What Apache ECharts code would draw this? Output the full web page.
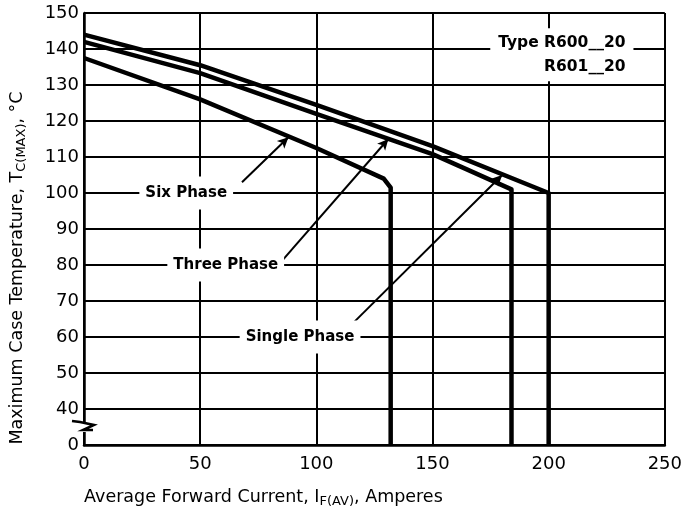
<!DOCTYPE html>
<html>
<head>
<meta charset="utf-8">
<script src="https://cdn.jsdelivr.net/npm/echarts@6/dist/echarts.min.js"></script>
<style>
  html, body { margin: 0; padding: 0; background: #fff; }
  #chart { width: 685px; height: 514px; }
</style>
</head>
<body>
<div id="chart"></div>
<script>
// curve data (current in A, case temp in °C)
// the y axis is broken: the bottom tick (30 here) is labelled "0"
const singleAmps = [0, 50, 100, 150, 200, 200];
const singleTemps = [144, 135.5, 124.5, 113, 100, 30];
const threeAmps = [0, 50, 100, 150, 165, 184, 184];
const threeTemps = [142, 133.3, 122, 110.8, 106.5, 101, 30];
const sixAmps = [0, 50, 100, 129, 132, 132];
const sixTemps = [137.5, 126, 112.5, 104, 101.5, 30];

const xTicks = [0, 50, 100, 150, 200, 250];
const yTickLabels = { 30: '0' };

// annotation labels and the arrows pointing at the curves
const noteTexts = ['Six Phase', 'Three Phase', 'Single Phase'];
const notePos = [[44, 100], [61, 80], [93, 60]];
const arrowFrom = [[68, 103], [85, 81], [116, 64]];
const arrowTo = [[88, 115.5], [131, 115], [180, 105]];
const typeLines = ['Type R600__20', 'R601__20'];
const typePos = [[236.5, 141.6], [236.5, 134.9]];

const FONT = '"DejaVu Sans", "Liberation Sans", sans-serif';

const chart = echarts.init(document.getElementById('chart'));

function curve(name, xs, ys) {
  return {
    name: name,
    type: 'line',
    data: xs.map((x, i) => [x, ys[i]]),
    symbol: 'none',
    lineStyle: { color: '#000', width: 4.5, join: 'round' },
    z: 5
  };
}

const notePoints = noteTexts.map((t, i) => ({
  coord: notePos[i],
  label: {
    show: true,
    position: 'inside',
    formatter: t,
    color: '#000',
    fontFamily: FONT,
    fontSize: 15,
    fontWeight: 'bold',
    backgroundColor: '#fff',
    padding: [9, 6]
  }
}));

const typePoints = typeLines.map((t, i) => ({
  coord: typePos[i],
  label: {
    show: true,
    position: 'inside',
    align: 'right',
    formatter: t,
    color: '#000',
    fontFamily: FONT,
    fontSize: 15.5,
    fontWeight: 'bold',
    backgroundColor: '#fff',
    padding: [i === 0 ? 12 : 2, 8, i === 0 ? 2 : 10, 8]
  }
}));

const titleRich = {
  n: { fontFamily: FONT, fontSize: 17.5, color: '#000', lineHeight: 22 },
  s: { fontFamily: FONT, fontSize: 13, color: '#000', verticalAlign: 'bottom', lineHeight: 22 }
};

const option = {
  animation: false,
  backgroundColor: '#fff',
  grid: { left: 83, right: 15, top: 13, bottom: 69 },
  xAxis: {
    type: 'value',
    min: 0,
    max: 250,
    interval: 50,
    name: '{n|Average Forward Current, I}{s|F(AV)}{n|, Amperes}',
    nameLocation: 'middle',
    nameGap: 41,
    nameTextStyle: { padding: [0, 222, 0, 0], rich: titleRich },
    axisLine: { show: true, lineStyle: { color: '#000', width: 2.5 } },
    axisTick: { show: false },
    axisLabel: {
      color: '#000',
      fontFamily: FONT,
      fontSize: 18,
      margin: 10,
      formatter: v => xTicks.includes(v) ? String(v) : ''
    },
    splitLine: { show: true, lineStyle: { color: '#000', width: 2 } }
  },
  yAxis: {
    type: 'value',
    min: 30,
    max: 150,
    interval: 10,
    name: '{n|Maximum Case Temperature, T}{s|C(MAX)}{n|, °C}',
    nameLocation: 'middle',
    nameRotate: 90,
    nameGap: 56,
    nameTextStyle: { padding: [0, 78, 0, 0], rich: titleRich },
    axisLine: { show: true, lineStyle: { color: '#000', width: 2.5 } },
    axisTick: { show: false },
    axisLabel: {
      color: '#000',
      fontFamily: FONT,
      fontSize: 18,
      margin: 5,
      formatter: v => yTickLabels[v] !== undefined ? yTickLabels[v] : String(v)
    },
    splitLine: { show: true, lineStyle: { color: '#000', width: 2 } }
  },
  series: [
    curve('Single Phase', singleAmps, singleTemps),
    curve('Three Phase', threeAmps, threeTemps),
    curve('Six Phase', sixAmps, sixTemps),
    {
      name: 'notes',
      type: 'scatter',
      data: [],
      z: 10,
      markPoint: {
        symbol: 'rect',
        symbolSize: 1,
        itemStyle: { color: 'rgba(0,0,0,0)' },
        data: notePoints.concat(typePoints)
      },
      markLine: {
        silent: true,
        symbol: ['none', 'arrow'],
        symbolSize: [8, 11],
        label: { show: false },
        lineStyle: { color: '#000', width: 2, type: 'solid' },
        data: arrowFrom.map((p, i) => [{ coord: p }, { coord: arrowTo[i] }])
      }
    }
  ]
};

chart.setOption(option);

// axis break mark between "0" and 40 on the y axis
const bp = chart.convertToPixel({ gridIndex: 0 }, [0, 35]);
const bx = bp[0], by = bp[1];
chart.setOption({
  graphic: [
    {
      type: 'rect',
      shape: { x: bx - 4, y: by - 5, width: 8, height: 10 },
      style: { fill: '#fff' },
      z: 20
    },
    {
      type: 'polyline',
      shape: { points: [[bx - 12, by - 6], [bx - 4, by - 5], [bx + 10, by - 2], [bx - 1, by + 3], [bx + 9, by + 3]] },
      style: { stroke: '#000', lineWidth: 2.5, fill: null },
      z: 21
    }
  ]
});
</script>
</body>
</html>
